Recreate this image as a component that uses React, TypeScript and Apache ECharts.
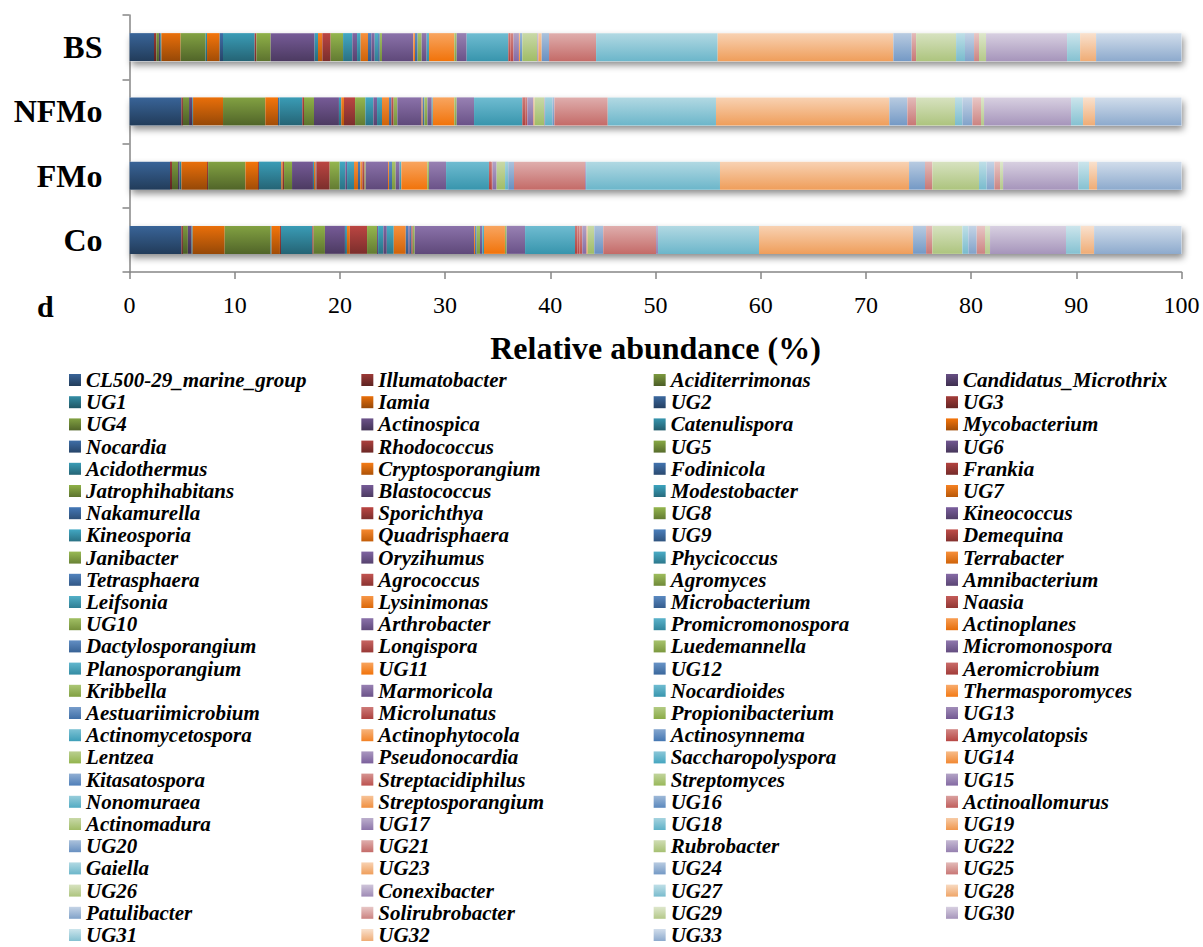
import React, { useEffect, useRef } from 'react';
import * as echarts from 'echarts';

// Categories, bottom to top on the vertical axis
const categories = ['Co', 'FMo', 'NFMo', 'BS'];

const genera = [
  'CL500-29_marine_group', 'Illumatobacter', 'Aciditerrimonas', 'Candidatus_Microthrix',
  'UG1', 'Iamia', 'UG2', 'UG3',
  'UG4', 'Actinospica', 'Catenulispora', 'Mycobacterium',
  'Nocardia', 'Rhodococcus', 'UG5', 'UG6',
  'Acidothermus', 'Cryptosporangium', 'Fodinicola', 'Frankia',
  'Jatrophihabitans', 'Blastococcus', 'Modestobacter', 'UG7',
  'Nakamurella', 'Sporichthya', 'UG8', 'Kineococcus',
  'Kineosporia', 'Quadrisphaera', 'UG9', 'Demequina',
  'Janibacter', 'Oryzihumus', 'Phycicoccus', 'Terrabacter',
  'Tetrasphaera', 'Agrococcus', 'Agromyces', 'Amnibacterium',
  'Leifsonia', 'Lysinimonas', 'Microbacterium', 'Naasia',
  'UG10', 'Arthrobacter', 'Promicromonospora', 'Actinoplanes',
  'Dactylosporangium', 'Longispora', 'Luedemannella', 'Micromonospora',
  'Planosporangium', 'UG11', 'UG12', 'Aeromicrobium',
  'Kribbella', 'Marmoricola', 'Nocardioides', 'Thermasporomyces',
  'Aestuariimicrobium', 'Microlunatus', 'Propionibacterium', 'UG13',
  'Actinomycetospora', 'Actinophytocola', 'Actinosynnema', 'Amycolatopsis',
  'Lentzea', 'Pseudonocardia', 'Saccharopolyspora', 'UG14',
  'Kitasatospora', 'Streptacidiphilus', 'Streptomyces', 'UG15',
  'Nonomuraea', 'Streptosporangium', 'UG16', 'Actinoallomurus',
  'Actinomadura', 'UG17', 'UG18', 'UG19',
  'UG20', 'UG21', 'Rubrobacter', 'UG22',
  'Gaiella', 'UG23', 'UG24', 'UG25',
  'UG26', 'Conexibacter', 'UG27', 'UG28',
  'Patulibacter', 'Solirubrobacter', 'UG29', 'UG30',
  'UG31', 'UG32', 'UG33',
];

// Relative abundance (%) per genus, in the order of `genera`
const coValues = [
  4.93, 0.15, 0.47, 0.35, 0.10, 3.05, 0, 0, 4.35, 0,
  0.10, 0.80, 0, 0.10, 0, 0, 2.98, 0, 0, 0.12,
  1.08, 1.90, 0.19, 0.28, 0, 1.63, 0.95, 0.10, 0.50, 0,
  0, 0, 0, 0.33, 0.66, 1.14, 0.25, 0, 0, 0.13,
  0, 0, 0.15, 0.13, 0.19, 5.64, 0, 0.10, 0.15, 0,
  0.32, 0.22, 0.16, 1.99, 0, 0, 0.16, 1.75, 4.75, 0,
  0, 0.22, 0, 0, 0, 0, 0, 0.19, 0, 0,
  0, 0, 0, 0.28, 0, 0.41, 0, 0.10, 0, 0,
  0.63, 0, 0, 0, 0.85, 5.02, 0, 0.19, 9.60, 14.64,
  1.24, 0.60, 2.85, 0, 0.57, 0, 0.79, 0.79, 0.48, 7.22,
  1.40, 1.27, 8.31,
];

const fmoValues = [
  3.85, 0.19, 0.57, 0.16, 0.16, 2.44, 0, 0.10, 3.55, 0,
  0, 1.20, 0, 0.09, 0, 0, 2.12, 0.13, 0, 0.13,
  0.76, 1.99, 0.10, 0.16, 0.06, 1.27, 0.95, 0, 0.54, 0,
  0, 0, 0, 0.16, 0.66, 0.38, 0.22, 0, 0, 0,
  0, 0.19, 0, 0.22, 0.10, 2.12, 0, 0.10, 0.28, 0,
  0.35, 0.38, 0.16, 2.47, 0, 0, 0.16, 1.62, 4.08, 0,
  0, 0.20, 0, 0, 0, 0, 0, 0.13, 0, 0,
  0, 0, 0, 0, 0, 0.40, 0, 0, 0, 0,
  0.80, 0, 0.30, 0, 0.55, 6.75, 0, 0.10, 12.73, 17.97,
  1.52, 0.70, 4.43, 0, 0.73, 0, 0.73, 0.54, 0.29, 7.16,
  1.01, 0.76, 8.03,
];

const nfmoValues = [
  4.93, 0.15, 0.58, 0.31, 0.07, 2.85, 0, 0, 4.02, 0,
  0, 1.21, 0.12, 0, 0, 0, 2.19, 0, 0, 0.16,
  0.95, 2.37, 0.22, 0.26, 0, 1.05, 0.98, 0, 0.76, 0,
  0, 0, 0, 0.35, 0.47, 0.67, 0, 0, 0, 0,
  0, 0, 0.22, 0.22, 0.35, 2.31, 0, 0.10, 0.16, 0,
  0.29, 0.41, 0.10, 2.05, 0, 0, 0.22, 1.65, 4.59, 0,
  0, 0.32, 0, 0, 0, 0, 0, 0.16, 0, 0,
  0, 0, 0, 0, 0, 0.58, 0, 0.10, 0, 0,
  0.94, 0.06, 0.70, 0, 0.19, 5.07, 0, 0, 10.29, 16.48,
  1.71, 0.83, 3.70, 0, 0.70, 0, 0.95, 0.82, 0.29, 8.27,
  1.14, 1.14, 8.22,
];

const bsValues = [
  2.33, 0.22, 0.25, 0.12, 0.11, 1.83, 0, 0, 2.38, 0,
  0.13, 1.20, 0.32, 0, 0, 0, 3.01, 0, 0, 0.16,
  1.36, 4.18, 0.32, 0.41, 0, 0.79, 1.18, 0, 0.88, 0,
  0, 0, 0, 0.45, 0.34, 0.70, 0.32, 0, 0, 0.32,
  0.32, 0, 0.16, 0, 0.21, 2.98, 0, 0.16, 0.25, 0,
  0.38, 0.48, 0.22, 2.41, 0, 0, 0.22, 0.95, 3.96, 0,
  0, 0.19, 0, 0, 0, 0, 0, 0.30, 0, 0,
  0, 0, 0, 0, 0, 0.52, 0, 0.10, 0.22, 0,
  1.43, 0.10, 0, 0.31, 0.70, 4.47, 0, 0, 11.56, 16.70,
  1.74, 0.42, 3.80, 0, 0.85, 0, 0.86, 0.47, 0.67, 7.70,
  1.24, 1.52, 8.12,
];

const valuesByCategory = [coValues, fmoValues, nfmoValues, bsValues];

const SERIF = "'Liberation Serif', 'Times New Roman', serif";
const accents = ['#4F81BD', '#C0504D', '#9BBB59', '#8064A2', '#4BACC6', '#F79646'];

function hexToHsl(hex: string): [number, number, number] {
  const r = parseInt(hex.slice(1, 3), 16) / 255;
  const g = parseInt(hex.slice(3, 5), 16) / 255;
  const b = parseInt(hex.slice(5, 7), 16) / 255;
  const max = Math.max(r, g, b);
  const min = Math.min(r, g, b);
  const l = (max + min) / 2;
  let h = 0;
  let s = 0;
  if (max !== min) {
    const d = max - min;
    s = l > 0.5 ? d / (2 - max - min) : d / (max + min);
    if (max === r) h = (g - b) / d + (g < b ? 6 : 0);
    else if (max === g) h = (b - r) / d + 2;
    else h = (r - g) / d + 4;
    h /= 6;
  }
  return [h, s, l];
}

function hslToHex(h: number, s: number, l: number): string {
  const hue2rgb = (p: number, q: number, t: number) => {
    if (t < 0) t += 1;
    if (t > 1) t -= 1;
    if (t < 1 / 6) return p + (q - p) * 6 * t;
    if (t < 1 / 2) return q;
    if (t < 2 / 3) return p + (q - p) * (2 / 3 - t) * 6;
    return p;
  };
  let r: number;
  let g: number;
  let b: number;
  if (s === 0) {
    r = g = b = l;
  } else {
    const q = l < 0.5 ? l * (1 + s) : l + s - l * s;
    const p = 2 * l - q;
    r = hue2rgb(p, q, h + 1 / 3);
    g = hue2rgb(p, q, h);
    b = hue2rgb(p, q, h - 1 / 3);
  }
  const toHex = (v: number) => Math.round(Math.max(0, Math.min(1, v)) * 255).toString(16).padStart(2, '0');
  return '#' + toHex(r) + toHex(g) + toHex(b);
}

function seriesColor(i: number) {
  const [h, s0, l] = hexToHsl(accents[i % 6]);
  const t = i < 54 ? -0.42 * (1 - i / 54) : (0.68 * (i - 54)) / 48;
  const L = t < 0 ? l * (1 + t) : l + (1 - l) * t;
  const s = t > 0 ? s0 * (1 - 0.2 * t) : s0;
  const top = hslToHex(h, s, Math.min(1, L + (1 - L) * 0.15));
  const bottom = hslToHex(h, s, L * 0.8);
  return new echarts.graphic.LinearGradient(0, 0, 0, 1, [
    { offset: 0, color: top },
    { offset: 1, color: bottom },
  ]);
}

export default function App() {
  const ref = useRef<HTMLDivElement>(null);

  useEffect(() => {
    if (!ref.current) return;
    const chart = echarts.init(ref.current, null, { renderer: 'svg' });

    const totals = valuesByCategory.map((arr) => arr.reduce((a, b) => a + b, 0));

    const barSeries: any[] = genera.map((name, i) => ({
      name,
      type: 'bar',
      stack: 'total',
      barWidth: 28,
      barGap: '-100%',
      z: 3,
      silent: true,
      emphasis: { disabled: true },
      itemStyle: { color: seriesColor(i) },
      data: valuesByCategory.map((arr) => arr[i]),
    }));

    const shadowSeries = {
      name: '__shadow',
      type: 'bar',
      barWidth: 28,
      barGap: '-100%',
      z: 2,
      silent: true,
      emphasis: { disabled: true },
      itemStyle: {
        color: '#ffffff',
        shadowBlur: 7,
        shadowOffsetX: 2,
        shadowOffsetY: 4,
        shadowColor: 'rgba(0,0,0,0.45)',
      },
      data: totals,
    };

    const legends = [0, 1, 2, 3].map((col) => ({
      orient: 'vertical',
      left: 69 + col * 292.33,
      top: 369.5,
      width: 290,
      height: 620,
      padding: 0,
      itemGap: 1.2,
      itemWidth: 12,
      itemHeight: 12,
      icon: 'rect',
      selectedMode: false,
      data: genera.filter((_, i) => i % 4 === col),
      textStyle: {
        fontFamily: SERIF,
        fontSize: 21,
        fontWeight: 'bold',
        fontStyle: 'italic',
        color: '#000',
        lineHeight: 21,
      },
    }));

    chart.setOption({
      animation: false,
      backgroundColor: '#ffffff',
      grid: { left: 129.5, right: 21.5, top: 15, height: 257, containLabel: false },
      xAxis: {
        type: 'value',
        min: 0,
        max: 100,
        interval: 10,
        name: 'Relative abundance (%)',
        nameLocation: 'middle',
        nameGap: 60,
        nameTextStyle: { fontFamily: SERIF, fontSize: 32, fontWeight: 'bold', color: '#000' },
        axisLine: { show: true, lineStyle: { color: '#868686', width: 1.5 } },
        axisTick: { show: true, length: 7, lineStyle: { color: '#868686', width: 1.5 } },
        axisLabel: { fontFamily: SERIF, fontSize: 24, color: '#000', margin: 21 },
        splitLine: { show: false },
      },
      yAxis: {
        type: 'category',
        data: categories,
        axisLine: { show: true, lineStyle: { color: '#868686', width: 1.5 } },
        axisTick: { show: true, length: 7, lineStyle: { color: '#868686', width: 1.5 } },
        axisLabel: { fontFamily: SERIF, fontSize: 32, fontWeight: 'bold', color: '#000', margin: 27 },
        splitLine: { show: false },
      },
      legend: legends,
      graphic: [
        {
          type: 'text',
          left: 37,
          top: 291,
          style: { text: 'd', font: `bold 30px ${SERIF}`, fill: '#000' },
        },
      ],
      series: [shadowSeries, ...barSeries],
    });

    return () => chart.dispose();
  }, []);

  return (
    <div
      ref={ref}
      style={{ position: 'absolute', left: 0, top: 0, width: 1203, height: 947, background: '#fff' }}
    />
  );
}
